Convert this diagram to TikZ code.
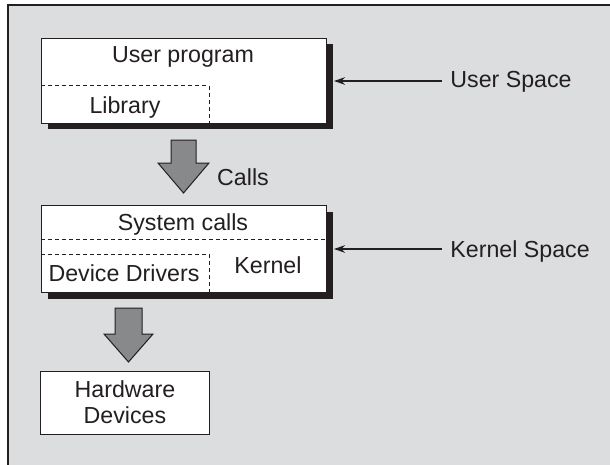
\documentclass[tikz,border=0pt]{standalone}
\usepackage{fontspec}
\setmainfont{Liberation Sans}
\usetikzlibrary{arrows.meta,shadows}

\definecolor{bggray}{RGB}{220,221,223}
\definecolor{arrowgray}{RGB}{136,137,139}
\definecolor{inkblack}{RGB}{35,31,32}

\tikzset{
    layerbox/.style={draw=inkblack, fill=white, line width=0.5pt, inner sep=0pt, anchor=north west},
    shadowed/.style={drop shadow={shadow xshift=3pt, shadow yshift=-3pt, fill=inkblack, opacity=1}},
    divider/.style={draw=inkblack, line width=0.5pt, dash pattern=on 2pt off 1.5pt},
    bigarrow/.style={fill=arrowgray, draw=inkblack, line width=0.5pt},
    pointer/.style={draw=inkblack, line width=0.7pt, -{Stealth[length=5.5pt,width=3.8pt]}},
    txt/.style={inner sep=0pt, anchor=base}
}

\begin{document}
\begin{tikzpicture}[x=0.5pt,y=-0.5pt,font=\fontsize{11.6}{13}\selectfont,text=inkblack]
            \useasboundingbox (0,0) rectangle (610,465);
            \fill[bggray] (8,5) rectangle (612,467);
            \draw[inkblack,line width=1pt] (8,467) -- (8,5) -- (612,5);

            % user space
            \node[layerbox,shadowed,minimum width=142.5pt,minimum height=42.5pt] (userbox) at (41,38) {};
            \draw[divider] (41,86) -- (209,86) -- (209,123);
            \node[txt] (userprog) at (183,63) {User program};
            \node[txt] (library) at (125,113) {Library};

            \draw[bigarrow] (171,140) -- (196,140) -- (196,163) -- (209,163) -- (183.5,193)
                -- (158,163) -- (171,163) -- cycle;
            \node[txt] (calls) at (243,185) {Calls};

            % kernel space
            \node[layerbox,shadowed,minimum width=142.5pt,minimum height=43.5pt] (kernelbox) at (41,205) {};
            \draw[divider] (41,239) -- (326,239);
            \draw[divider] (41,254) -- (209,254) -- (209,292);
            \node[txt] (syscalls) at (183,230) {System calls};
            \node[txt] (drivers) at (124,281) {Device Drivers};
            \node[txt] (kernel) at (268,273) {Kernel};

            \draw[bigarrow] (115,308) -- (142,308) -- (142,334) -- (153,334) -- (128.5,362)
                -- (104,334) -- (115,334) -- cycle;

            % hardware
            \node[layerbox,minimum width=84.5pt,minimum height=31.5pt] (hwbox) at (40,371) {};
            \node[txt,align=center] (hardware) at (125,423) {Hardware\\Devices};

            % labels on the right
            \node[txt,anchor=base west] (userspace) at (450,88) {User Space};
            \node[txt,anchor=base west] (kernelspace) at (450,257) {Kernel Space};
            \coordinate (usertip) at (334,81);
            \coordinate (kerneltip) at (334,249);
            \draw[pointer] (442,81) -- (usertip);
            \draw[pointer] (442,249) -- (kerneltip);
        \end{tikzpicture}
\end{document}
